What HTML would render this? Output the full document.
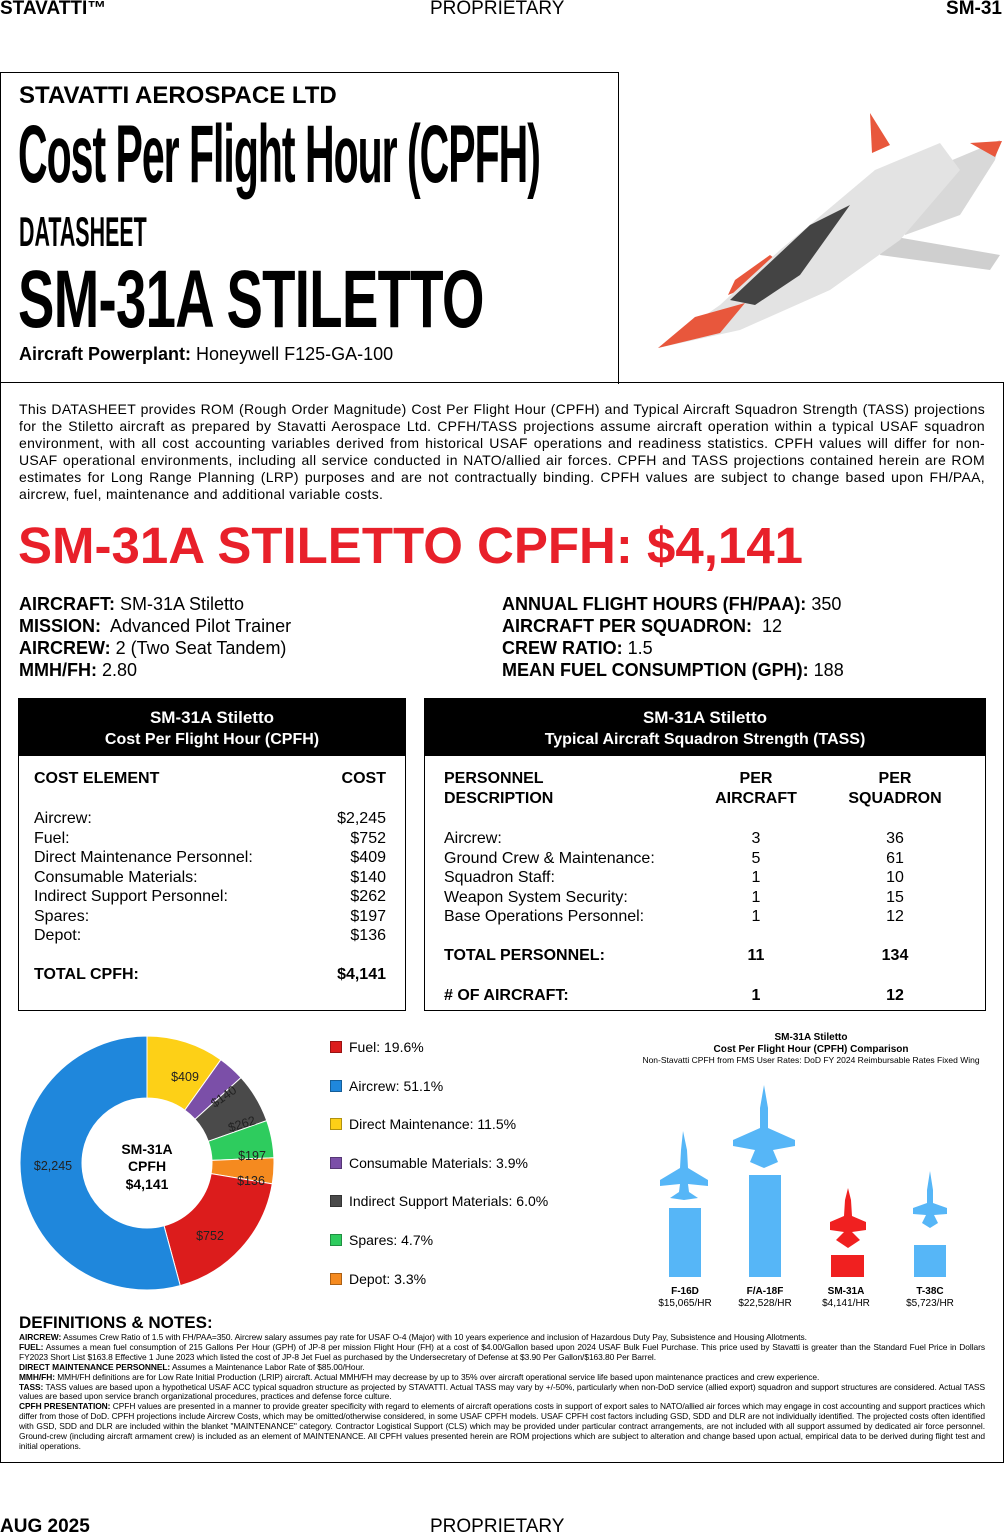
<!DOCTYPE html>
<html><head><meta charset="utf-8">
<style>
*{margin:0;padding:0;box-sizing:border-box}
body{width:1004px;height:1536px;background:#fff;font-family:"Liberation Sans",sans-serif;color:#000;position:relative;overflow:hidden}
.a{position:absolute;white-space:nowrap}
.b{font-weight:bold}
.cond{transform-origin:0 0;font-weight:bold}
.tb{position:absolute;border:1.5px solid #000}
.th{background:#000;color:#fff;text-align:center;font-weight:bold;font-size:17px;line-height:21px;padding-top:8px;height:57px}
.row{position:absolute;font-size:16px;line-height:19.5px}
.leg{position:absolute;left:330px;font-size:14px}
.leg i{display:inline-block;width:12px;height:12px;vertical-align:-1px;margin-right:7px;border:1px solid rgba(0,0,0,.3)}
</style></head><body>

<div class="a b" style="left:0;top:-2px;font-size:19px">STAVATTI™</div>
<div class="a" style="left:430px;top:-2px;font-size:19px">PROPRIETARY</div>
<div class="a b" style="right:2px;top:-2px;font-size:19px">SM-31</div>

<div style="position:absolute;left:0;top:72px;width:619px;height:312px;border:1.5px solid #000;border-bottom:none"></div>
<div style="position:absolute;left:0;top:382px;width:1004px;height:1081px;border:1.5px solid #000"></div>

<div class="a b" style="left:19px;top:82px;font-size:24px">STAVATTI AEROSPACE LTD</div>
<div class="a cond" style="left:18px;top:108px;font-size:82px;letter-spacing:-2px;transform:scaleX(0.5)">Cost Per Flight Hour (CPFH)</div>
<div class="a cond" style="left:19px;top:208px;font-size:42px;transform:scaleX(0.51)">DATASHEET</div>
<div class="a cond" style="left:18px;top:253px;font-size:82px;letter-spacing:-1px;transform:scaleX(0.665)">SM-31A STILETTO</div>
<div class="a" style="left:19px;top:344px;font-size:18px"><b>Aircraft Powerplant:</b> Honeywell F125-GA-100</div>

<svg style="position:absolute;left:650px;top:105px" width="354" height="250" viewBox="0 0 354 250">
<polygon points="220,8 240,40 222,48" fill="#e8573c"/>
<polygon points="120,150 85,175 78,190 140,165" fill="#e8573c"/>
<polygon points="255,75 350,35 345,55 310,110 255,130" fill="#d8d8d8"/>
<polygon points="235,130 350,150 340,165 230,150" fill="#cfcfcf"/>
<polygon points="8,243 70,200 130,145 225,65 290,38 310,65 250,135 180,185 90,225" fill="#e3e3e3"/>
<polygon points="8,243 45,212 95,198 70,228" fill="#e8573c"/>
<polygon points="80,195 160,120 200,100 150,170 105,200" fill="#444"/>
<polygon points="320,38 352,36 345,52" fill="#e8573c"/>
</svg>

<div style="position:absolute;left:19px;top:401px;width:966px;font-size:14px;line-height:17px;text-align:justify;letter-spacing:0.3px">This DATASHEET provides ROM (Rough Order Magnitude) Cost Per Flight Hour (CPFH) and Typical Aircraft Squadron Strength (TASS) projec&shy;tions for the Stiletto aircraft as prepared by Stavatti Aerospace Ltd. CPFH/TASS projections assume aircraft operation within a typical USAF squadron environment, with all cost accounting variables derived from historical USAF operations and readiness statistics. CPFH values will dif&shy;fer for non-USAF operational environments, including all service conducted in NATO/allied air forces. CPFH and TASS projections contained herein are ROM estimates for Long Range Planning (LRP) purposes and are not contractually binding. CPFH values are subject to change based upon FH/PAA, aircrew, fuel, maintenance and additional variable costs.</div>

<div class="a b" style="left:18px;top:516px;font-size:51px;color:#e8202a">SM-31A STILETTO CPFH: $4,141</div>

<div style="position:absolute;left:19px;top:593px;font-size:18px;line-height:22px">
<div><b>AIRCRAFT:</b> SM-31A Stiletto</div><div><b>MISSION:</b>&nbsp; Advanced Pilot Trainer</div><div><b>AIRCREW:</b> 2 (Two Seat Tandem)</div><div><b>MMH/FH:</b> 2.80</div></div>
<div style="position:absolute;left:502px;top:593px;font-size:18px;line-height:22px">
<div><b>ANNUAL FLIGHT HOURS (FH/PAA):</b> 350</div><div><b>AIRCRAFT PER SQUADRON:</b>&nbsp; 12</div><div><b>CREW RATIO:</b> 1.5</div><div><b>MEAN FUEL CONSUMPTION (GPH):</b> 188</div></div>

<div class="tb" style="left:18px;top:698px;width:388px;height:313px">
<div class="th">SM-31A Stiletto<br><span style="font-size:16px">Cost Per Flight Hour (CPFH)</span></div>
<div class="row b" style="left:15px;top:70px">COST ELEMENT</div>
<div class="row b" style="right:19px;top:70px">COST</div>
<div class="row" style="left:15px;top:110px">Aircrew:<br>Fuel:<br>Direct Maintenance Personnel:<br>Consumable Materials:<br>Indirect Support Personnel:<br>Spares:<br>Depot:</div>
<div class="row" style="right:19px;top:110px;text-align:right">$2,245<br>$752<br>$409<br>$140<br>$262<br>$197<br>$136</div>
<div class="row b" style="left:15px;top:266px">TOTAL CPFH:</div>
<div class="row b" style="right:19px;top:266px">$4,141</div>
</div>

<div class="tb" style="left:424px;top:698px;width:562px;height:313px">
<div class="th">SM-31A Stiletto<br><span style="font-size:16px">Typical Aircraft Squadron Strength (TASS)</span></div>
<div class="row b" style="left:19px;top:70px">PERSONNEL<br>DESCRIPTION</div>
<div class="row b" style="left:286px;top:70px;width:90px;text-align:center">PER<br>AIRCRAFT</div>
<div class="row b" style="left:410px;top:70px;width:120px;text-align:center">PER<br>SQUADRON</div>
<div class="row" style="left:19px;top:130px">Aircrew:<br>Ground Crew &amp; Maintenance:<br>Squadron Staff:<br>Weapon System Security:<br>Base Operations Personnel:</div>
<div class="row" style="left:286px;top:130px;width:90px;text-align:center">3<br>5<br>1<br>1<br>1</div>
<div class="row" style="left:410px;top:130px;width:120px;text-align:center">36<br>61<br>10<br>15<br>12</div>
<div class="row b" style="left:19px;top:247px">TOTAL PERSONNEL:</div>
<div class="row b" style="left:286px;top:247px;width:90px;text-align:center">11</div>
<div class="row b" style="left:410px;top:247px;width:120px;text-align:center">134</div>
<div class="row b" style="left:19px;top:287px"># OF AIRCRAFT:</div>
<div class="row b" style="left:286px;top:287px;width:90px;text-align:center">1</div>
<div class="row b" style="left:410px;top:287px;width:120px;text-align:center">12</div>
</div>

<svg style="position:absolute;left:0;top:1020px" width="300" height="290" viewBox="0 1020 300 290" font-family="Liberation Sans, sans-serif">
<g id="donut"></g>
<text x="147" y="1154" text-anchor="middle" font-size="14" font-weight="bold">SM-31A</text>
<text x="147" y="1171" text-anchor="middle" font-size="14" font-weight="bold">CPFH</text>
<text x="147" y="1189" text-anchor="middle" font-size="14" font-weight="bold">$4,141</text>
<g font-size="12.5" fill="#222">
<text x="185" y="1081" text-anchor="middle">$409</text>
<text x="226" y="1100" text-anchor="middle" transform="rotate(-35 226 1100)">$140</text>
<text x="243" y="1128" text-anchor="middle" transform="rotate(-17 243 1128)">$262</text>
<text x="252" y="1160" text-anchor="middle">$197</text>
<text x="251" y="1185" text-anchor="middle">$136</text>
<text x="210" y="1240" text-anchor="middle">$752</text>
<text x="53" y="1170" text-anchor="middle">$2,245</text>
</g>
</svg>
<script>
(function(){
var v=[[409,'#fdd017'],[140,'#7b4fa8'],[262,'#4a4a4a'],[197,'#2ecc5e'],[136,'#f58a1f'],[752,'#dc1c1c'],[2245,'#1f87dc']];
var cx=147,cy=1163,R=127,r=65,t=4141,a=0,s='';
function p(rad,ang){return [cx+rad*Math.sin(ang),cy-rad*Math.cos(ang)];}
v.forEach(function(d){var a2=a+d[0]/t*2*Math.PI,l=(a2-a)>Math.PI?1:0;
var p1=p(R,a),p2=p(R,a2),p3=p(r,a2),p4=p(r,a);
s+='<path d="M'+p1+' A'+R+' '+R+' 0 '+l+' 1 '+p2+' L'+p3+' A'+r+' '+r+' 0 '+l+' 0 '+p4+'Z" fill="'+d[1]+'" stroke="#fff" stroke-width="1"/>';a=a2;});
document.getElementById('donut').innerHTML=s;})();
</script>

<div class="leg" style="top:1039px"><i style="background:#dc1c1c"></i>Fuel: 19.6%</div>
<div class="leg" style="top:1078px"><i style="background:#1f87dc"></i>Aircrew: 51.1%</div>
<div class="leg" style="top:1116px"><i style="background:#fdd017"></i>Direct Maintenance: 11.5%</div>
<div class="leg" style="top:1155px"><i style="background:#7b4fa8"></i>Consumable Materials: 3.9%</div>
<div class="leg" style="top:1193px"><i style="background:#4a4a4a"></i>Indirect Support Materials: 6.0%</div>
<div class="leg" style="top:1232px"><i style="background:#2ecc5e"></i>Spares: 4.7%</div>
<div class="leg" style="top:1271px"><i style="background:#f58a1f"></i>Depot: 3.3%</div>

<svg style="position:absolute;left:620px;top:1020px" width="380" height="290" viewBox="620 1020 380 290" font-family="Liberation Sans, sans-serif">
<text x="811" y="1040" text-anchor="middle" font-size="10" font-weight="bold">SM-31A Stiletto</text>
<text x="811" y="1052" text-anchor="middle" font-size="10" font-weight="bold">Cost Per Flight Hour (CPFH) Comparison</text>
<text x="811" y="1063" text-anchor="middle" font-size="8.5">Non-Stavatti CPFH from FMS User Rates: DoD FY 2024 Reimbursable Rates Fixed Wing</text>
<g fill="#56b6f7">
<rect x="669" y="1208" width="32" height="69"/>
<rect x="749" y="1175" width="32" height="102"/>
<rect x="914" y="1245" width="32" height="32"/>
<path d="M683,1131 L687,1150 L688,1168 L708,1180 L708,1186 L688,1184 L689,1192 L698,1198 L684,1200 L670,1198 L679,1192 L680,1184 L660,1186 L660,1180 L680,1168 L681,1150Z"/>
<path d="M764,1085 L768,1108 L768,1128 L795,1140 L795,1146 L773,1150 L778,1162 L764,1168 L750,1162 L755,1150 L733,1146 L733,1140 L760,1128 L760,1108Z"/>
<path d="M930,1171 L933,1190 L933,1203 L947,1208 L947,1214 L934,1215 L938,1223 L930,1228 L922,1223 L926,1215 L913,1214 L913,1208 L927,1203 L927,1190Z"/>
</g>
<g fill="#f02020">
<rect x="831" y="1255" width="33" height="22"/>
<path d="M848,1188 L851,1200 L852,1216 L866,1222 L866,1230 L852,1232 L860,1240 L848,1248 L836,1240 L844,1232 L830,1230 L830,1222 L844,1216 L845,1200Z"/>
</g>
<g font-size="10" text-anchor="middle">
<text x="685" y="1294" font-weight="bold">F-16D</text><text x="685" y="1306">$15,065/HR</text>
<text x="765" y="1294" font-weight="bold">F/A-18F</text><text x="765" y="1306">$22,528/HR</text>
<text x="846" y="1294" font-weight="bold">SM-31A</text><text x="846" y="1306">$4,141/HR</text>
<text x="930" y="1294" font-weight="bold">T-38C</text><text x="930" y="1306">$5,723/HR</text>
</g>
</svg>

<div class="a b" style="left:19px;top:1313px;font-size:17px">DEFINITIONS &amp; NOTES:</div>
<div style="position:absolute;left:19px;top:1333px;width:966px;font-size:8.4px;line-height:9.9px;text-align:justify;letter-spacing:-0.05px">
<div><b>AIRCREW:</b> Assumes Crew Ratio of 1.5 with FH/PAA=350. Aircrew salary assumes pay rate for USAF O-4 (Major) with 10 years experience and inclusion of Hazardous Duty Pay, Subsistence and Housing Allotments.</div>
<div><b>FUEL:</b> Assumes a mean fuel consumption of 215 Gallons Per Hour (GPH) of JP-8 per mission Flight Hour (FH) at a cost of $4.00/Gallon based upon 2024 USAF Bulk Fuel Purchase. This price used by Stavatti is greater than the Standard Fuel Price in Dollars FY2023 Short List $163.8 Effective 1 June 2023 which listed the cost of JP-8 Jet Fuel as purchased by the Undersecretary of Defense at $3.90 Per Gallon/$163.80 Per Barrel.</div>
<div><b>DIRECT MAINTENANCE PERSONNEL:</b> Assumes a Maintenance Labor Rate of $85.00/Hour.</div>
<div><b>MMH/FH:</b> MMH/FH definitions are for Low Rate Initial Production (LRIP) aircraft. Actual MMH/FH may decrease by up to 35% over aircraft operational service life based upon maintenance practices and crew experience.</div>
<div><b>TASS:</b> TASS values are based upon a hypothetical USAF ACC typical squadron structure as projected by STAVATTI. Actual TASS may vary by +/-50%, particularly when non-DoD service (allied export) squadron and support structures are considered. Actual TASS values are based upon service branch organizational procedures, practices and defense force culture.</div>
<div><b>CPFH PRESENTATION:</b> CPFH values are presented in a manner to provide greater specificity with regard to elements of aircraft operations costs in support of export sales to NATO/allied air forces which may engage in cost accounting and support practices which differ from those of DoD. CPFH projections include Aircrew Costs, which may be omitted/otherwise considered, in some USAF CPFH models. USAF CPFH cost factors including GSD, SDD and DLR are not individually identified. The projected costs often identified with GSD, SDD and DLR are included within the blanket "MAINTENANCE" category. Contractor Logistical Support (CLS) which may be provided under particular contract arrangements, are not included with all support assumed by dedicated air force personnel. Ground-crew (including aircraft armament crew) is included as an element of MAINTENANCE. All CPFH values presented herein are ROM projections which are subject to alteration and change based upon actual, empirical data to be derived during flight test and initial operations.</div>
</div>

<div class="a b" style="left:0;top:1516px;font-size:19px">AUG 2025</div>
<div class="a" style="left:430px;top:1516px;font-size:19px">PROPRIETARY</div>
</body></html>
